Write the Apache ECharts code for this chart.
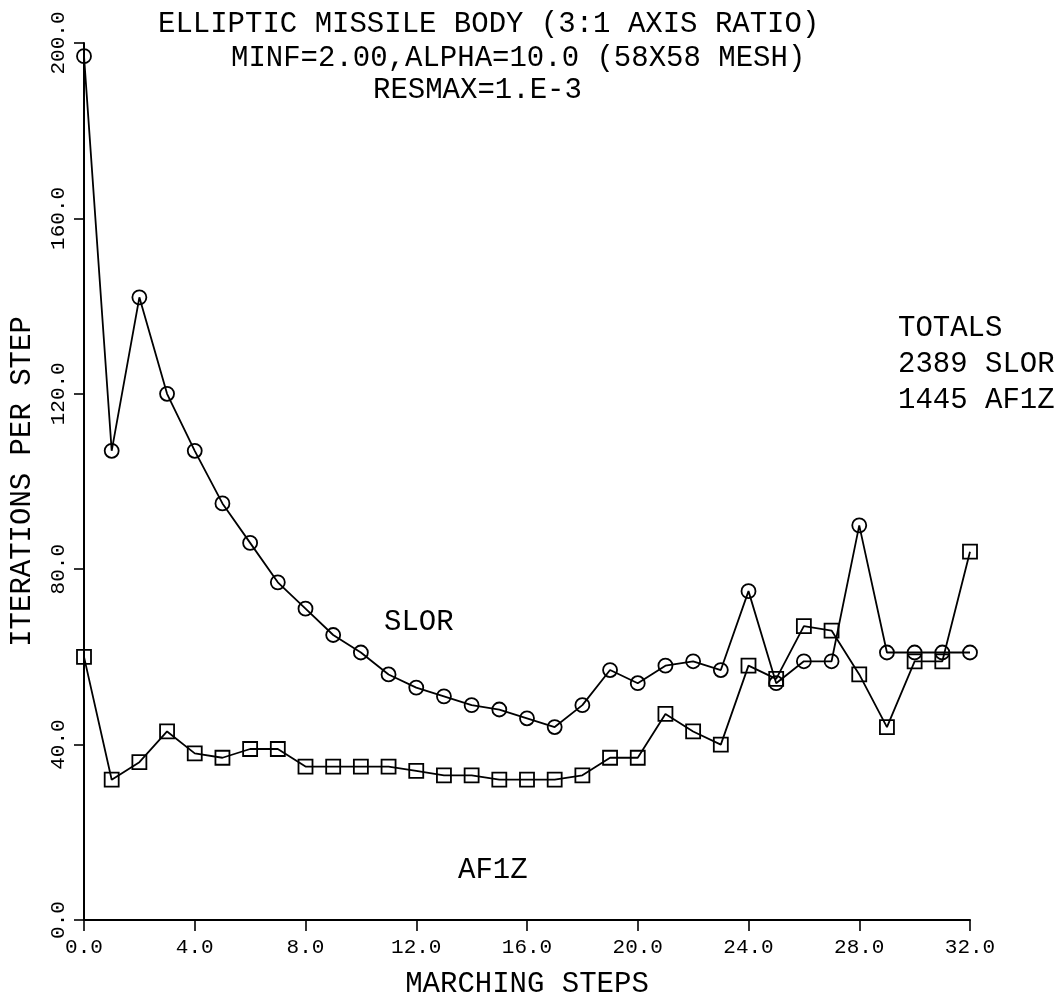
<!DOCTYPE html>
<html>
<head>
<meta charset="utf-8">
<script src="https://cdn.jsdelivr.net/npm/echarts@6/dist/echarts.min.js"></script>
<style>
  html, body { margin: 0; padding: 0; background: #ffffff; }
  #chart { width: 1059px; height: 1004px; }
</style>
</head>
<body>
<div id="chart"></div>
<script>
// Marching step index (0 .. 32)
const steps = [0, 1, 2, 3, 4, 5, 6, 7, 8, 9, 10, 11, 12, 13, 14, 15, 16,
               17, 18, 19, 20, 21, 22, 23, 24, 25, 26, 27, 28, 29, 30, 31, 32];

// Iterations needed per marching step, SLOR scheme (total 2389)
const slorIterations = [197, 107, 142, 120, 107, 95, 86, 77, 71, 65, 61, 56, 53, 51, 49, 48, 46,
                        44, 49, 57, 54, 58, 59, 57, 75, 54, 59, 59, 90, 61, 61, 61, 61];

// Iterations needed per marching step, AF1Z scheme (total 1445)
const af1zIterations = [60, 32, 36, 43, 38, 37, 39, 39, 35, 35, 35, 35, 34, 33, 33, 32, 32,
                        32, 33, 37, 37, 47, 43, 40, 58, 55, 67, 66, 56, 44, 59, 59, 84];

// Axis tick labels
const xTickLabels = ['0.0', '4.0', '8.0', '12.0', '16.0', '20.0', '24.0', '28.0', '32.0'];
const yTickLabels = ['0.0', '40.0', '80.0', '120.0', '160.0', '200.0'];

const titleLines = [
  'ELLIPTIC MISSILE BODY (3:1 AXIS RATIO)',
  'MINF=2.00,ALPHA=10.0 (58X58 MESH)',
  'RESMAX=1.E-3'
];
const totalsLines = ['TOTALS', '2389 SLOR', '1445 AF1Z'];

const FONT = "'Liberation Mono', 'DejaVu Sans Mono', monospace";
const INK = '#000000';

const big = { fontFamily: FONT, fontSize: 29, fontWeight: 'normal', color: INK };

const chart = echarts.init(document.getElementById('chart'), null, { renderer: 'canvas' });

const slorData = steps.map((s, i) => [s, slorIterations[i]]);
const af1zData = steps.map((s, i) => [s, af1zIterations[i]]);

chart.setOption({
  backgroundColor: '#ffffff',
  animation: false,
  title: [
    { text: titleLines[0], left: 153, top: 5, textStyle: big },
    { text: titleLines[1], left: 226, top: 39, textStyle: big },
    { text: titleLines[2], left: 368, top: 71, textStyle: big },
    { text: totalsLines[0], left: 893, top: 309, textStyle: big },
    { text: totalsLines[1], left: 893, top: 345, textStyle: big },
    { text: totalsLines[2], left: 893, top: 381, textStyle: big },
    { text: 'SLOR', left: 379, top: 603, textStyle: big },
    { text: 'AF1Z', left: 453, top: 851, textStyle: big }
  ],
  grid: { left: 84, right: 89, top: 43, bottom: 82, containLabel: false },
  xAxis: {
    type: 'value',
    min: 0, max: 32, interval: 4,
    name: 'MARCHING STEPS',
    nameLocation: 'middle',
    nameGap: 50,
    nameTextStyle: big,
    axisLine: { show: true, onZero: false, lineStyle: { color: INK, width: 2 } },
    axisTick: { show: true, inside: false, length: 11, lineStyle: { color: INK, width: 1.6 } },
    axisLabel: {
      margin: 17,
      fontFamily: FONT, fontSize: 21, color: INK,
      formatter: v => xTickLabels[Math.round(v / 4)]
    },
    splitLine: { show: false }
  },
  yAxis: {
    type: 'value',
    min: 0, max: 200, interval: 40,
    name: 'ITERATIONS PER STEP',
    nameLocation: 'middle',
    nameGap: 47,
    nameTextStyle: big,
    axisLine: { show: true, onZero: false, lineStyle: { color: INK, width: 2 } },
    axisTick: { show: true, inside: false, length: 10, lineStyle: { color: INK, width: 1.6 } },
    axisLabel: {
      rotate: 90,
      margin: 15,
      fontFamily: FONT, fontSize: 21, color: INK,
      formatter: v => yTickLabels[Math.round(v / 40)]
    },
    splitLine: { show: false }
  },
  series: [
    {
      name: 'SLOR',
      type: 'line',
      data: slorData,
      symbol: 'circle',
      symbolSize: 14,
      showAllSymbol: true,
      clip: false,
      lineStyle: { color: INK, width: 1.8 },
      itemStyle: { color: 'rgba(0,0,0,0)', borderColor: INK, borderWidth: 1.8 },
      z: 3
    },
    {
      name: 'AF1Z',
      type: 'line',
      data: af1zData,
      symbol: 'rect',
      symbolSize: 14,
      showAllSymbol: true,
      clip: false,
      lineStyle: { color: INK, width: 1.8 },
      itemStyle: { color: 'rgba(0,0,0,0)', borderColor: INK, borderWidth: 1.8 },
      z: 3
    }
  ]
});
</script>
</body>
</html>
